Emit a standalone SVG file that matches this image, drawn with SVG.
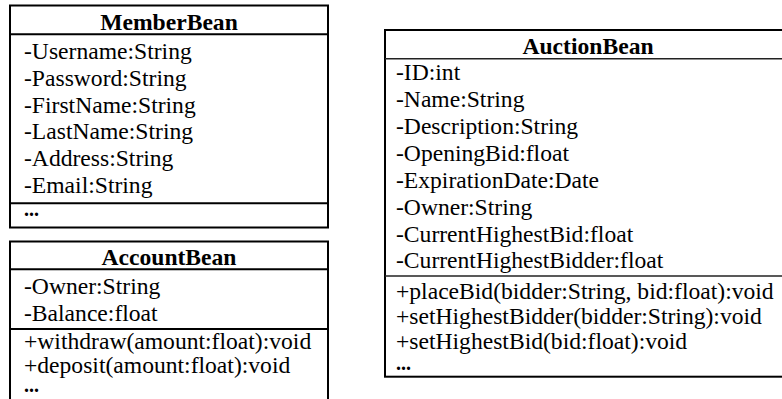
<svg xmlns="http://www.w3.org/2000/svg" width="782" height="399" viewBox="0 0 782 399">
<style>
.box{fill:#fff;stroke:#000;stroke-width:2}
.sep{stroke:#000;stroke-width:2}
.sep2{stroke:#222;stroke-width:1.6}
text{font-family:"Liberation Serif","Times New Roman",serif;font-size:23.6px;fill:#000}
.t{font-weight:bold;text-anchor:middle}
.d{font-weight:bold;font-size:20px}
</style>
<rect width="782" height="399" fill="#fff"/>
<g id="MemberBean">
<rect class="box" x="10" y="5.5" width="318" height="222"/>
<line class="sep" x1="10" y1="34.3" x2="328" y2="34.3"/>
<line class="sep" x1="10" y1="203.3" x2="328" y2="203.3"/>
<text class="t" x="169" y="29.5">MemberBean</text>
<text x="24" y="58.7">-Username:String</text>
<text x="24" y="85.6">-Password:String</text>
<text x="24" y="112.5">-FirstName:String</text>
<text x="24" y="139.4">-LastName:String</text>
<text x="24" y="166.3">-Address:String</text>
<text x="24" y="193.2">-Email:String</text>
<text class="d" x="24" y="216">...</text>
</g>
<g id="AccountBean">
<rect class="box" x="10" y="241.5" width="318" height="170"/>
<line class="sep" x1="10" y1="269.3" x2="328" y2="269.3"/>
<line class="sep" x1="10" y1="329" x2="328" y2="329"/>
<text class="t" x="169" y="264.5">AccountBean</text>
<text x="24" y="294">-Owner:String</text>
<text x="24" y="320.5">-Balance:float</text>
<text x="24" y="349">+withdraw(amount:float):void</text>
<text x="24" y="373">+deposit(amount:float):void</text>
<text class="d" x="24" y="392">...</text>
</g>
<g id="AuctionBean">
<rect class="box" x="385" y="30" width="406" height="346.7"/>
<line class="sep2" x1="385" y1="58.7" x2="791" y2="58.7"/>
<line class="sep2" x1="385" y1="276" x2="791" y2="276"/>
<text class="t" x="588" y="53.5">AuctionBean</text>
<text x="396" y="80">-ID:int</text>
<text x="396" y="107">-Name:String</text>
<text x="396" y="134">-Description:String</text>
<text x="396" y="161">-OpeningBid:float</text>
<text x="396" y="188">-ExpirationDate:Date</text>
<text x="396" y="215">-Owner:String</text>
<text x="396" y="241.7">-CurrentHighestBid:float</text>
<text x="396" y="268">-CurrentHighestBidder:float</text>
<text x="396" y="299">+placeBid(bidder:String, bid:float):void</text>
<text x="396" y="324">+setHighestBidder(bidder:String):void</text>
<text x="396" y="349">+setHighestBid(bid:float):void</text>
<text class="d" x="396" y="370">...</text>
</g>
<g id="connectors"></g>
</svg>
